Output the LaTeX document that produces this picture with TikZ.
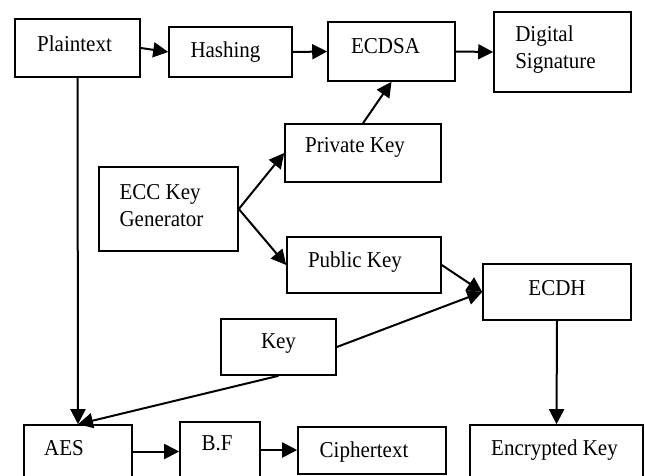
\documentclass[tikz,border=0pt]{standalone}
\usepackage{fontspec}
\setmainfont{Liberation Serif}[FakeStretch=0.925]
\usetikzlibrary{arrows.meta}
\begin{document}
\begin{tikzpicture}[x=1pt,y=-1pt,
  box/.style={draw,line width=1.6pt,inner sep=0pt},
  txt/.style={font=\fontsize{22.7}{27}\selectfont,align=left,inner sep=0pt},
  conn/.style={line width=2pt,-{Triangle[length=15pt,width=15pt]}}]
\useasboundingbox (0,0) rectangle (645,476);
\node[box,minimum width=125pt,minimum height=58pt,label={[txt,xshift=-3pt,yshift=4pt]center:Plaintext}] (plain) at (77.5,48) {};
\node[box,minimum width=123pt,minimum height=50pt,label={[txt,xshift=-5pt]center:Hashing}] (hash) at (230.5,52) {};
\node[box,minimum width=127pt,minimum height=59pt,label={[txt,xshift=-6pt,yshift=5pt]center:ECDSA}] (ecdsa) at (391.5,51.5) {};
\node[box,minimum width=137pt,minimum height=80pt,label={[txt,xshift=-7pt,yshift=2pt]center:Digital\\Signature}] (dsig) at (562.5,52) {};
\node[box,minimum width=156pt,minimum height=58pt,label={[txt,xshift=-8pt,yshift=6pt]center:Private Key}] (priv) at (363,153) {};
\node[box,minimum width=139pt,minimum height=84pt,label={[txt,xshift=-7pt,yshift=3pt]center:ECC Key\\Generator}] (ecc) at (168.5,209) {};
\node[box,minimum width=154pt,minimum height=56pt,label={[txt,xshift=-9pt,yshift=3pt]center:Public Key}] (pub) at (364,265) {};
\node[box,minimum width=148pt,minimum height=56pt,label={[txt,yshift=4pt]center:ECDH}] (ecdh) at (557,292) {};
\node[box,minimum width=115pt,minimum height=56pt,label={[txt,yshift=3pt]center:Key}] (key) at (278.5,347) {};
\node[box,minimum width=108pt,minimum height=53pt,label={[txt,xshift=-14pt,yshift=3pt]center:AES}] (aes) at (78,451.5) {};
\node[box,minimum width=80pt,minimum height=56pt,label={[txt,xshift=-3pt,yshift=7pt]center:B.F}] (bf) at (220,450) {};
\node[box,minimum width=148pt,minimum height=47pt,label={[txt,xshift=-8pt,yshift=-2pt]center:Ciphertext}] (ciph) at (372,450.5) {};
\node[box,minimum width=173pt,minimum height=53pt,label={[txt,xshift=-2pt,yshift=1pt]center:Encrypted Key}] (enc) at (556.5,451.5) {};
\draw[conn] (plain.east) -- (hash.west);
\draw[conn] (hash.east) -- (ecdsa.west);
\draw[conn] (ecdsa.east) -- (dsig.west);
\draw[conn] (priv.north) -- (ecdsa.south);
\draw[conn] (ecc.east) -- (priv.west);
\draw[conn] (ecc.east) -- (pub.west);
\draw[conn] (pub.east) -- (ecdh.west);
\draw[conn] (key.east) -- (ecdh.west);
\draw[conn] (key.south) -- (aes.north);
\draw[conn] (plain.south) -- (aes.north);
\draw[conn] (aes.east) -- (aes.east -| bf.west);
\draw[conn] (bf.east) -- (bf.east -| ciph.west);
\draw[conn] (ecdh.south) -- (enc.north);
\end{tikzpicture}
\end{document}
